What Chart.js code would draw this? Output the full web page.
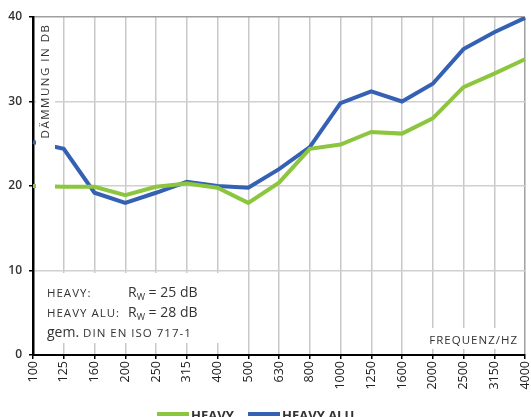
<!DOCTYPE html>
<html>
<head>
<meta charset="utf-8">
<script src="https://cdn.jsdelivr.net/npm/chart.js@4/dist/chart.umd.min.js"></script>
<style>
  html, body { margin: 0; padding: 0; background: #fff; overflow: hidden; }
  #wrap { width: 531px; height: 417px; }
</style>
</head>
<body>
<div id="wrap"><canvas id="chart" width="531" height="417"></canvas></div>
<script>
var frequencies = ['100', '125', '160', '200', '250', '315', '400', '500', '630', '800',
                   '1000', '1250', '1600', '2000', '2500', '3150', '4000'];
var heavy = [20.0, 19.9, 19.9, 18.9, 19.9, 20.3, 19.8, 18.0, 20.4, 24.4,
             24.9, 26.4, 26.2, 28.0, 31.7, 33.3, 35.0];
var heavyAlu = [25.2, 24.4, 19.2, 18.0, 19.2, 20.5, 20.0, 19.8, 22.0, 24.6,
                29.8, 31.2, 30.0, 32.1, 36.2, 38.2, 39.9];
var seriesNames = ['HEAVY', 'HEAVY ALU'];
var yTicks = [0, 10, 20, 30, 40];

var green = '#8cc63f';
var blue = '#3561b4';
var FONT = '"Open Sans", "Noto Sans", sans-serif';

// draw a line of text made of several runs with different fonts
function drawRuns(ctx, x, y, runs) {
    runs.forEach(function(r) {
        ctx.font = r.font;
        ctx.letterSpacing = r.ls || '0px';
        if (r.x !== undefined) x = r.x;
        ctx.fillText(r.t, x, y + (r.dy || 0));
        x += ctx.measureText(r.t).width;
    });
}

var overlay = {
    id: 'overlay',
    afterDatasetsDraw: function(chart) {
        var ctx = chart.ctx;
        ctx.save();
        ctx.fillStyle = '#fff';
        // y axis title box
        ctx.fillRect(36, 19, 19, 176);
        // note box
        ctx.fillRect(36, 273, 196, 70);
        // x axis title box
        ctx.fillRect(420, 328, 102, 21);

        ctx.fillStyle = '#333';
        ctx.textBaseline = 'middle';
        ctx.textAlign = 'center';
        ctx.save();
        ctx.translate(45.5, 81);
        ctx.rotate(-Math.PI / 2);
        ctx.font = '11.5px ' + FONT;
        ctx.letterSpacing = '1.5px';
        ctx.fillText('DÄMMUNG IN DB', 0, 0);
        ctx.restore();

        ctx.textAlign = 'left';
        ctx.textBaseline = 'alphabetic';
        var small = '11.5px ' + FONT, big = '14px ' + FONT, sub = '9px ' + FONT;
        drawRuns(ctx, 47, 297, [
            {t: 'HEAVY:', font: small, ls: '1px'},
            {t: 'R', font: big, x: 128},
            {t: 'W', font: sub, dy: 3},
            {t: ' = 25 dB', font: big}
        ]);
        drawRuns(ctx, 47, 317, [
            {t: 'HEAVY ALU:', font: small, ls: '1px'},
            {t: 'R', font: big, x: 128},
            {t: 'W', font: sub, dy: 3},
            {t: ' = 28 dB', font: big}
        ]);
        drawRuns(ctx, 47, 337, [
            {t: 'gem.', font: big},
            {t: ' DIN EN ISO 717-1', font: small, ls: '1px'}
        ]);

        ctx.textAlign = 'right';
        ctx.font = '11.5px ' + FONT;
        ctx.letterSpacing = '1px';
        ctx.fillText('FREQUENZ/HZ', 518, 344);
        ctx.restore();
    },
    afterDraw: function(chart) {
        // legend under the chart
        var ctx = chart.ctx;
        var pos = [157, 248];
        ctx.save();
        ctx.font = 'bold 13px ' + FONT;
        ctx.textBaseline = 'alphabetic';
        chart.data.datasets.forEach(function(ds, i) {
            ctx.fillStyle = ds.borderColor;
            ctx.fillRect(pos[i], 412, 32, 4);
            ctx.fillStyle = '#333';
            ctx.fillText(ds.label, pos[i] + 34, 420);
        });
        ctx.restore();
    }
};

var ctx = document.getElementById('chart').getContext('2d');
var chart = new Chart(ctx, {
    type: 'line',
    data: {
        labels: frequencies,
        datasets: [
            {label: seriesNames[0], data: heavy, borderColor: green, backgroundColor: green,
             borderWidth: 4, pointRadius: 0, tension: 0},
            {label: seriesNames[1], data: heavyAlu, borderColor: blue, backgroundColor: blue,
             borderWidth: 4, pointRadius: 0, tension: 0}
        ]
    },
    options: {
        responsive: false,
        animation: false,
        devicePixelRatio: 1,
        layout: {padding: {top: 17, right: 6, left: 0, bottom: 0}},
        plugins: {legend: {display: false}, tooltip: {enabled: false}},
        scales: {
            x: {
                offset: false,
                grid: {
                    color: function(c) { return c.index === frequencies.length - 1 ? '#a0a0a0' : '#c8c8c8'; },
                    lineWidth: 1.5,
                    tickColor: '#000',
                    tickLength: 4
                },
                border: {color: '#000', width: 2},
                ticks: {
                    color: '#222',
                    font: {family: FONT, size: 12.5},
                    minRotation: 90, maxRotation: 90,
                    autoSkip: false,
                    padding: 2
                },
                afterFit: function(s) {
                    s.height = 62;
                    s.paddingLeft = 0;
                    s.paddingRight = 0;
                }
            },
            y: {
                min: 0, max: 40,
                afterBuildTicks: function(s) { s.ticks = yTicks.map(function(v) { return {value: v}; }); },
                grid: {
                    color: function(c) { return c.tick && c.tick.value === 40 ? '#a0a0a0' : '#d0d0d0'; },
                    lineWidth: 1.5,
                    tickColor: '#000',
                    tickLength: 4
                },
                border: {color: '#000', width: 2.5},
                ticks: {
                    color: '#333',
                    font: {family: FONT, size: 12, weight: '600'},
                    padding: 7
                },
                afterFit: function(s) { s.width = 33; }
            }
        }
    },
    plugins: [overlay]
});
</script>
</body>
</html>
